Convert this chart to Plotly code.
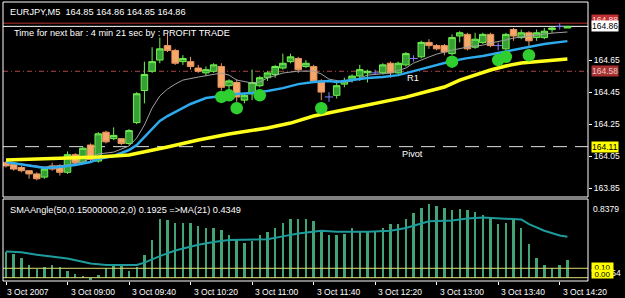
import plotly.graph_objects as go

# ---------------- data (EURJPY M5, 3 Oct 2007, bars 08:20 .. 14:25) ----------------
bar_index = list(range(74))

opens = [164.01, 164.00, 163.98, 163.96, 163.94, 163.92, 163.99, 163.99, 163.95, 164.06,
         164.01, 164.12, 164.02, 164.20, 164.16, 164.16, 164.13, 164.26, 164.46, 164.58,
         164.65, 164.74, 164.71, 164.64, 164.64, 164.60, 164.57, 164.58, 164.61, 164.49,
         164.51, 164.40, 164.44, 164.49, 164.54, 164.56, 164.60, 164.64, 164.66, 164.61,
         164.61, 164.52, 164.42, 164.43, 164.50, 164.53, 164.55, 164.57, 164.57, 164.57,
         164.63, 164.57, 164.62, 164.66, 164.67, 164.76, 164.74, 164.74, 164.69, 164.80,
         164.81, 164.73, 164.76, 164.81, 164.74, 164.72, 164.84, 164.79, 164.82, 164.79,
         164.79, 164.84, 164.86, 164.85]
highs = [164.02, 164.01, 163.99, 163.96, 163.95, 163.98, 164.01, 164.00, 164.08, 164.07,
         164.11, 164.13, 164.20, 164.21, 164.23, 164.16, 164.22, 164.45, 164.64, 164.73,
         164.79, 164.82, 164.72, 164.68, 164.67, 164.62, 164.61, 164.63, 164.63, 164.53,
         164.53, 164.44, 164.59, 164.55, 164.58, 164.62, 164.69, 164.69, 164.67, 164.65,
         164.62, 164.53, 164.45, 164.51, 164.54, 164.56, 164.62, 164.59, 164.59, 164.63,
         164.64, 164.64, 164.70, 164.68, 164.77, 164.78, 164.75, 164.75, 164.81, 164.83,
         164.82, 164.82, 164.82, 164.82, 164.76, 164.82, 164.85, 164.84, 164.83, 164.84,
         164.85, 164.86, 164.88, 164.86]
lows = [163.98, 163.96, 163.95, 163.91, 163.90, 163.91, 163.96, 163.93, 163.94, 163.99,
        164.00, 164.02, 164.01, 164.13, 164.15, 164.12, 164.12, 164.25, 164.38, 164.57,
        164.63, 164.70, 164.62, 164.62, 164.59, 164.57, 164.55, 164.57, 164.46, 164.46,
        164.39, 164.38, 164.40, 164.48, 164.52, 164.54, 164.59, 164.63, 164.57, 164.60,
        164.51, 164.40, 164.39, 164.41, 164.48, 164.51, 164.52, 164.51, 164.56, 164.56,
        164.54, 164.56, 164.61, 164.64, 164.66, 164.72, 164.71, 164.68, 164.68, 164.76,
        164.71, 164.72, 164.75, 164.73, 164.71, 164.71, 164.77, 164.78, 164.73, 164.77,
        164.78, 164.82, 164.84, 164.85]
closes = [163.99, 163.97, 163.96, 163.94, 163.91, 163.97, 163.97, 163.95, 164.06, 164.01,
          164.10, 164.03, 164.19, 164.14, 164.18, 164.13, 164.21, 164.44, 164.56, 164.64,
          164.72, 164.71, 164.63, 164.66, 164.61, 164.58, 164.59, 164.62, 164.48, 164.52,
          164.42, 164.43, 164.51, 164.54, 164.57, 164.61, 164.63, 164.67, 164.59, 164.63,
          164.52, 164.45, 164.42, 164.49, 164.52, 164.55, 164.59, 164.58, 164.57, 164.62,
          164.57, 164.63, 164.69, 164.66, 164.76, 164.74, 164.72, 164.70, 164.79, 164.82,
          164.72, 164.78, 164.81, 164.74, 164.74, 164.81, 164.80, 164.82, 164.77, 164.82,
          164.83, 164.85, 164.86, 164.86]

# moving averages (bar index, price)
fast_ma_idx = [0, 3, 5, 8, 10, 12, 14, 16, 17, 18, 19, 20, 21, 22, 23, 25, 27, 28, 29, 30, 32, 33, 34,
               36, 38, 40, 41, 42, 44, 45, 47, 49, 50, 52, 53, 55, 56, 58, 60, 62, 63, 65, 66, 68, 71, 73]
fast_ma_val = [164.014, 163.996, 163.983, 163.996, 164.014, 164.064, 164.076, 164.114, 164.164, 164.245,
               164.351, 164.426, 164.469, 164.500, 164.525, 164.544, 164.563, 164.569, 164.556, 164.525,
               164.507, 164.513, 164.538, 164.569, 164.581, 164.581, 164.563, 164.531, 164.513, 164.519,
               164.556, 164.563, 164.569, 164.600, 164.631, 164.669, 164.687, 164.712, 164.731, 164.743,
               164.756, 164.775, 164.787, 164.800, 164.818, 164.825]
mid_ma_idx = [0, 3, 5, 7, 9, 11, 12, 14, 16, 17, 18, 19, 20, 21, 22, 24, 26, 28, 30, 32, 34, 36, 37, 38,
              40, 42, 43, 45, 47, 49, 51, 53, 55, 57, 58, 60, 62, 64, 66, 68, 70, 73]
mid_ma_val = [164.014, 163.989, 163.977, 163.983, 163.996, 164.014, 164.033, 164.052, 164.089, 164.120,
              164.170, 164.214, 164.270, 164.301, 164.326, 164.376, 164.413, 164.426, 164.438, 164.444,
              164.457, 164.475, 164.488, 164.500, 164.513, 164.519, 164.513, 164.525, 164.538, 164.544,
              164.556, 164.581, 164.606, 164.631, 164.644, 164.662, 164.675, 164.694, 164.712, 164.731,
              164.750, 164.768]
slow_ma_idx = [0, 4, 8, 12, 16, 18, 21, 25, 29, 34, 37, 40, 42, 47, 50, 52, 55, 57, 59, 61, 63, 65, 67, 70, 73]
slow_ma_val = [164.027, 164.033, 164.039, 164.045, 164.058, 164.076, 164.108, 164.151, 164.189, 164.226,
               164.257, 164.301, 164.320, 164.370, 164.401, 164.419, 164.457, 164.482, 164.525, 164.556,
               164.588, 164.613, 164.631, 164.644, 164.656]

# signal dots
dot_idx = [28, 29, 30, 33, 41, 58, 64, 65, 68]
dot_val = [164.42, 164.43, 164.35, 164.43, 164.35, 164.64, 164.65, 164.67, 164.68]

# price levels
ask_price = 164.88
bid_price = 164.86
r1_price = 164.58
pivot_price = 164.11

# indicator: SMAAngle histogram and its MA(21)
angle_vals = [0.27, 0.25, 0.21, 0.14, 0.09, 0.11, 0.14, 0.11, 0.07, 0.04,
              0.01, -0.025, 0.03, 0.10, 0.13, 0.13, 0.07, 0.11, 0.24, 0.40,
              0.63, 0.61, 0.58, 0.58, 0.58, 0.55, 0.53, 0.53, 0.51, 0.45,
              0.40, 0.37, 0.39, 0.45, 0.49, 0.53, 0.58, 0.63, 0.62, 0.62,
              0.60, 0.51, 0.45, 0.45, 0.46, 0.53, 0.50, 0.49, 0.50, 0.53,
              0.57, 0.57, 0.62, 0.69, 0.74, 0.78, 0.76, 0.74, 0.72, 0.73,
              0.72, 0.70, 0.67, 0.65, 0.57, 0.58, 0.61, 0.53, 0.36, 0.21,
              0.135, 0.10, 0.135, 0.1925]
angle_ma_idx = [0, 2, 4, 8, 11, 13, 17, 18, 20, 22, 25, 27, 29, 32, 34, 36, 38, 41, 43, 47, 50, 52,
                55, 58, 60, 62, 66, 67, 68, 70, 72, 73]
angle_ma_val = [0.28, 0.27, 0.245, 0.205, 0.15, 0.135, 0.135, 0.16, 0.23, 0.29, 0.35, 0.38, 0.40,
                0.41, 0.41, 0.44, 0.47, 0.50, 0.49, 0.49, 0.50, 0.53, 0.60, 0.61, 0.63, 0.64, 0.63,
                0.62, 0.57, 0.50, 0.45, 0.4349]
angle_levels = [0.10, 0.00]
angle_max = 0.8379
angle_min = -0.0354

price_ticks = [164.65, 164.45, 164.25, 164.05, 163.85]
time_tick_idx = [0, 8, 16, 24, 32, 40, 48, 56, 64, 72]
time_tick_text = ["3 Oct 2007", "3 Oct 09:00", "3 Oct 09:40", "3 Oct 10:20", "3 Oct 11:00",
                  "3 Oct 11:40", "3 Oct 12:20", "3 Oct 13:00", "3 Oct 13:40", "3 Oct 14:20"]

# ---------------- layout geometry ----------------
W, H = 625, 298
ML, MR, MT, MB = 3, 37, 2, 17
PH = H - MT - MB
FONT = "Liberation Sans"


def py(ypx):
    return (H - MB - ypx) / PH


def px(xpx):
    return (xpx - ML) / (W - ML - MR)


main_dom = [py(197), 1.0]
ind_dom = [0.0, py(199)]
x_range = [-0.39, 75.68]
y_range = [163.796, 165.012]

# ---------------- traces ----------------
doji = [o == c for o, c in zip(opens, closes)]
cx = [i for i, d in zip(bar_index, doji) if not d]
co = [v for v, d in zip(opens, doji) if not d]
ch = [v for v, d in zip(highs, doji) if not d]
cl = [v for v, d in zip(lows, doji) if not d]
cc = [v for v, d in zip(closes, doji) if not d]
dx = [i for i, d in zip(bar_index, doji) if d]
dp = [v for v, d in zip(closes, doji) if d]
dh = [h - p for h, p, d in zip(highs, closes, doji) if d]
dl = [p - l for l, p, d in zip(lows, closes, doji) if d]

fig = go.Figure()
fig.add_trace(go.Candlestick(
    x=cx, open=co, high=ch, low=cl, close=cc, xaxis="x", yaxis="y",
    increasing=dict(line=dict(color="#70f050", width=1), fillcolor="#35a035"),
    decreasing=dict(line=dict(color="#ec9660", width=1), fillcolor="#f6a86a"),
    whiskerwidth=0, hoverinfo="skip", showlegend=False))
fig.add_trace(go.Scatter(
    x=dx, y=dp, mode="markers", xaxis="x", yaxis="y",
    marker=dict(symbol="line-ew", size=6, line=dict(color="#8080ff", width=1)),
    error_y=dict(type="data", symmetric=False, array=dh, arrayminus=dl,
                 width=0, thickness=1, color="#8080ff"),
    hoverinfo="skip", showlegend=False))
fig.add_trace(go.Scatter(x=fast_ma_idx, y=fast_ma_val, mode="lines", xaxis="x", yaxis="y",
                         line=dict(color="#a0a0a0", width=1), hoverinfo="skip"))
fig.add_trace(go.Scatter(x=mid_ma_idx, y=mid_ma_val, mode="lines", xaxis="x", yaxis="y",
                         line=dict(color="#2eaaee", width=2.5), hoverinfo="skip"))
fig.add_trace(go.Scatter(x=slow_ma_idx, y=slow_ma_val, mode="lines", xaxis="x", yaxis="y",
                         line=dict(color="#ffff1a", width=3.5), hoverinfo="skip"))
fig.add_trace(go.Scatter(x=dot_idx, y=dot_val, mode="markers", xaxis="x", yaxis="y",
                         marker=dict(size=12.5, color="#2fcf2f", line=dict(width=0)), hoverinfo="skip"))

fig.add_trace(go.Bar(x=bar_index, y=angle_vals, width=0.32, xaxis="x2", yaxis="y2",
                     marker=dict(color="#42a474", line=dict(width=0)), hoverinfo="skip"))
fig.add_trace(go.Scatter(x=angle_ma_idx, y=angle_ma_val, mode="lines", xaxis="x2", yaxis="y2",
                         line=dict(color="#1e9b9b", width=2), hoverinfo="skip"))

# ---------------- shapes ----------------
shapes = []
shapes.append(dict(type="line", xref="paper", x0=0, x1=1, yref="y", y0=r1_price, y1=r1_price,
                   line=dict(color="#a84840", width=1, dash="5px,3px,1px,3px"), layer="below"))
shapes.append(dict(type="line", xref="paper", x0=0, x1=1, yref="y", y0=pivot_price, y1=pivot_price,
                   line=dict(color="#e0e0e0", width=1, dash="14px,8px"), layer="below"))
shapes.append(dict(type="line", xref="paper", x0=0, x1=1, yref="y", y0=ask_price, y1=ask_price,
                   line=dict(color="#b83030", width=1), layer="below"))
shapes.append(dict(type="line", xref="paper", x0=0, x1=1, yref="y", y0=bid_price, y1=bid_price,
                   line=dict(color="#ffffff", width=1), layer="below"))
for lv in angle_levels:
    shapes.append(dict(type="line", xref="paper", x0=0, x1=1, yref="y2", y0=lv, y1=lv,
                       line=dict(color="#dcdc70", width=1), layer="above"))
shapes.append(dict(type="rect", xref="paper", yref="paper", x0=0, x1=1, y0=main_dom[0], y1=main_dom[1],
                   line=dict(color="#ffffff", width=1), layer="above"))
shapes.append(dict(type="rect", xref="paper", yref="paper", x0=0, x1=1, y0=ind_dom[0], y1=ind_dom[1],
                   line=dict(color="#ffffff", width=1), layer="above"))

# ---------------- annotations ----------------
ann = []


def text(x, y, s, size=9.2, color="white", **kw):
    d = dict(xref="paper", yref="paper", x=x, y=y, text=s, showarrow=False,
             font=dict(family=FONT, size=size, color=color), xanchor="left", yanchor="middle")
    d.update(kw)
    ann.append(d)


text(px(8), py(12), "EURJPY,M5  164.85 164.86 164.85 164.86")
text(px(12), py(33), "Time for next bar : 4 min 21 sec by : PROFIT TRADE")
text(px(8), py(210), "SMAAngle(50,0.15000000,2,0) 0.1925 =>MA(21) 0.4349")

ann.append(dict(xref="x", yref="y", x=52.9, y=r1_price, yshift=-7, text="R1", showarrow=False,
                font=dict(family=FONT, size=9.2, color="white")))
ann.append(dict(xref="x", yref="y", x=52.9, y=pivot_price, yshift=-7, text="Pivot", showarrow=False,
                font=dict(family=FONT, size=9.2, color="white")))


def price_box(y, s, bg, fg, yref="y", yshift=0, size=8.5, **kw):
    d = dict(xref="paper", x=1, xanchor="left", xshift=3, yref=yref, y=y, yshift=yshift,
             text=s, showarrow=False, bgcolor=bg, borderpad=0,
             font=dict(family=FONT, size=size, color=fg))
    d.update(kw)
    ann.append(d)


# indicator scale labels (min label sits behind the level boxes, as in the terminal)
ann.append(dict(xref="paper", x=1, xanchor="left", xshift=3, yref="y2", y=angle_max, yanchor="top",
                yshift=-3, text=f"{angle_max:.4f}", showarrow=False,
                font=dict(family=FONT, size=8.5, color="white")))
ann.append(dict(xref="paper", x=1, xanchor="left", xshift=2, yref="y2", y=angle_min, yanchor="bottom",
                yshift=1, text=f"{angle_min:.4f}", showarrow=False,
                font=dict(family=FONT, size=8.5, color="white")))
price_box(angle_levels[0], f"{angle_levels[0]:.2f}", "#ffff00", "#000000", yref="y2", yshift=1.5,
          size=8, width=21, height=8)
price_box(angle_levels[1], f"{angle_levels[1]:.2f}", "#ffff00", "#000000", yref="y2", yshift=3.5,
          size=8, width=21, height=8)

price_box(ask_price, f"{ask_price:.2f}", "#c03030", "#ffdddd", yshift=3)
price_box(bid_price, f"{bid_price:.2f}", "#ffffff", "#000000")
price_box(r1_price, f"{r1_price:.2f}", "#a83232", "#e8c8c8")
price_box(pivot_price, f"{pivot_price:.2f}", "#ffff00", "#000000")

for i, (ti, tt) in enumerate(zip(time_tick_idx, time_tick_text)):
    ann.append(dict(xref="x2", x=ti, yref="paper", y=0, xanchor="left", yanchor="top",
                    xshift=(-1 if i == 0 else 1), yshift=-4, text=tt, showarrow=False,
                    font=dict(family=FONT, size=8.5, color="white")))

fig.update_layout(
    width=W, height=H, margin=dict(l=ML, r=MR, t=MT, b=MB),
    paper_bgcolor="black", plot_bgcolor="black", showlegend=False,
    boxgap=0.15, boxgroupgap=0, bargap=0,
    shapes=shapes, annotations=ann,
    xaxis=dict(domain=[0, 1], anchor="y", range=x_range, showgrid=False, zeroline=False,
               showticklabels=False, ticks="", rangeslider=dict(visible=False), fixedrange=True),
    xaxis2=dict(domain=[0, 1], anchor="y2", range=x_range, showgrid=False, zeroline=False,
                tickvals=time_tick_idx, ticks="outside", ticklen=3, tickcolor="white",
                showticklabels=False, fixedrange=True),
    yaxis=dict(domain=main_dom, anchor="x", range=y_range, side="right", showgrid=False,
               zeroline=False, tickvals=price_ticks, ticktext=[f"{p:.2f}" for p in price_ticks],
               ticks="outside", ticklen=3, tickcolor="white",
               tickfont=dict(family=FONT, size=8.5, color="white"), fixedrange=True),
    yaxis2=dict(domain=ind_dom, anchor="x2", range=[angle_min, angle_max], showgrid=False,
                zeroline=False, showticklabels=False, ticks="", fixedrange=True),
)

fig.write_html("out.html", config={"displayModeBar": False})
